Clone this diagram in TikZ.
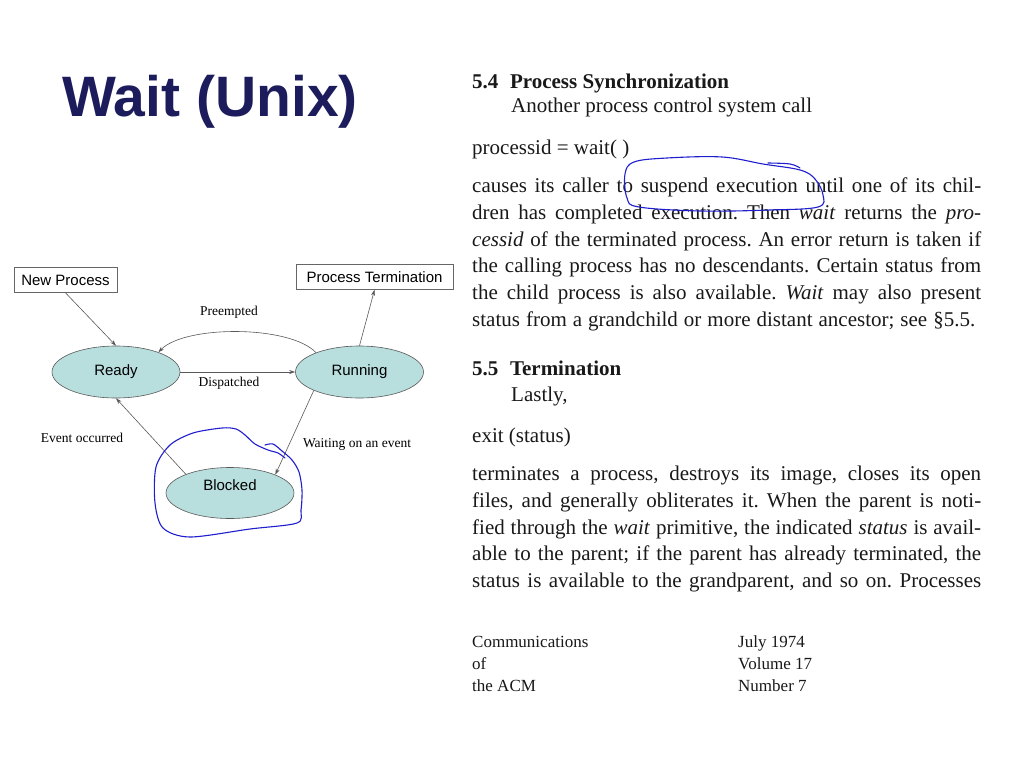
\documentclass[tikz,border=0pt]{standalone}
\usepackage{fontspec}
\setmainfont{Liberation Serif}
\newfontfamily\arialfam{Liberation Sans}
\usetikzlibrary{shapes.geometric,arrows.meta}
\definecolor{titleblue}{RGB}{28,28,92}
\definecolor{statefill}{RGB}{184,222,222}
\definecolor{inkblue}{RGB}{30,30,205}
\definecolor{bodytext}{RGB}{25,25,25}
\newcommand{\jl}[2][509pt]{\makebox[#1][s]{#2}}
\frenchspacing
\begin{document}
\begin{tikzpicture}[x=1pt,y=-1pt,
  statenode/.style={ellipse, draw=black!65, line width=0.6pt, fill=statefill,
    minimum width=128pt, minimum height=52pt, inner sep=0pt,
    font=\arialfam\fontsize{15}{18}\selectfont},
  statetext/.style={inner sep=0pt, font=\arialfam\fontsize{15}{18}\selectfont},
  boxnode/.style={rectangle, draw=black!60, line width=0.6pt, inner sep=0pt,
    minimum height=25pt, font=\arialfam\fontsize{15}{18}\selectfont},
  edge/.style={draw=black!65, line width=0.6pt, -{Stealth[length=6pt,width=4pt]}},
  elabel/.style={inner sep=0pt, font=\fontsize{13.5}{16}\selectfont},
  bodyline/.style={anchor=base west, inner sep=0pt, text=bodytext,
    font=\fontsize{21}{26}\selectfont},
  footline/.style={anchor=base west, inner sep=0pt, text=bodytext,
    font=\fontsize{17}{20}\selectfont},
  inkline/.style={draw=inkblue, line width=1.1pt, line cap=round, line join=round}]
\useasboundingbox (0,0) rectangle (1024,768);
\fill[white] (0,0) rectangle (1024,768);

% title
\node[anchor=base west, inner sep=0pt, text=titleblue,
  font=\arialfam\bfseries\fontsize{57}{62}\selectfont] (title) at (62,116) {Wait (Unix)};

% diagram
\node[boxnode, minimum width=103pt] (np) at (65.5,280) {New Process};
\node[boxnode, minimum width=157pt] (pt) at (374.5,277) {Process Termination};
\node[statenode] (ready) at (116,372) {Ready};
\node[statenode] (run) at (359.5,372) {Running};
\node[statenode, minimum height=51pt] (blk) at (230,493) {};
\node[statetext] (blktext) at (230,485) {Blocked};

\draw[edge] (np.south) -- (ready.north);
\draw[edge] (run.north) -- (pt.south);
\draw[edge] (run.156) .. controls (290,325) and (185,325) .. (ready.25);
\draw[edge] (ready.east) -- (run.west);
\draw[edge] (run.202) -- (blk.22);
\draw[edge] (blk.157) -- (ready.south);

\node[elabel] (lpre) at (229,312) {Preempted};
\node[elabel] (ldis) at (229,383) {Dispatched};
\node[elabel] (levt) at (82,438) {Event occurred};
\node[elabel] (lwait) at (357,444) {Waiting on an event};

% blue ink around Blocked
\draw[inkline] plot[smooth, tension=0.5] coordinates {
  (265,445) (273,444) (282,451) (292,460) (299,472) (302,490) (301,510)
  (297,523) (250,529) (190,537) (163,528) (155,503) (156,467) (170,445)
  (193,433) (222,428) (236,429) (245,435) (255,444) (268,450) (278,453) (285,458)};

% right column text
\node[bodyline] (h54) at (472,88) {\bfseries 5.4\hspace{0.55em}Process Synchronization};
\node[bodyline] (t1) at (511,112) {Another process control system call};
\node[bodyline] (t2) at (472,154) {processid = wait( )};
\node[bodyline] (p1) at (472,192) {\jl{causes its caller to suspend execution until one of its chil-}};
\node[bodyline] (p2) at (472,219) {\jl{dren has completed execution. Then \textit{wait} returns the \textit{pro-}}};
\node[bodyline] (p3) at (472,246) {\jl{\textit{cessid} of the terminated process. An error return is taken if}};
\node[bodyline] (p4) at (472,272) {\jl{the calling process has no descendants. Certain status from}};
\node[bodyline] (p5) at (472,299) {\jl{the child process is also available. \textit{Wait} may also present}};
\node[bodyline] (p6) at (472,326) {\jl[503pt]{status from a grandchild or more distant ancestor; see §5.5.}};

\node[bodyline] (h55) at (472,375) {\bfseries 5.5\hspace{0.55em}Termination};
\node[bodyline] (t3) at (511,401) {Lastly,};
\node[bodyline] (t4) at (472,442) {exit (status)};
\node[bodyline] (q1) at (472,480) {\jl{terminates a process, destroys its image, closes its open}};
\node[bodyline] (q2) at (472,507) {\jl{files, and generally obliterates it. When the parent is noti-}};
\node[bodyline] (q3) at (472,534) {\jl{fied through the \textit{wait} primitive, the indicated \textit{status} is avail-}};
\node[bodyline] (q4) at (472,560) {\jl{able to the parent; if the parent has already terminated, the}};
\node[bodyline] (q5) at (472,587) {\jl{status is available to the grandparent, and so on. Processes}};

\node[footline] (f1) at (472,647) {Communications};
\node[footline] (f2) at (472,669) {of};
\node[footline] (f3) at (472,691) {the ACM};
\node[footline] (g1) at (738,647) {July 1974};
\node[footline] (g2) at (738,669) {Volume 17};
\node[footline] (g3) at (738,691) {Number 7};

% blue ink around "suspend execution until"
\draw[inkline] plot[smooth cycle, tension=0.6] coordinates {
  (625,174) (634,162) (667,158) (722,157) (763,164) (800,170) (815,179)
  (823,195) (818,207) (770,210) (701,211) (639,207) (627,198)};
\draw[inkline] plot[smooth, tension=0.6] coordinates {(768,163) (790,164) (800,168)};
\end{tikzpicture}
\end{document}
